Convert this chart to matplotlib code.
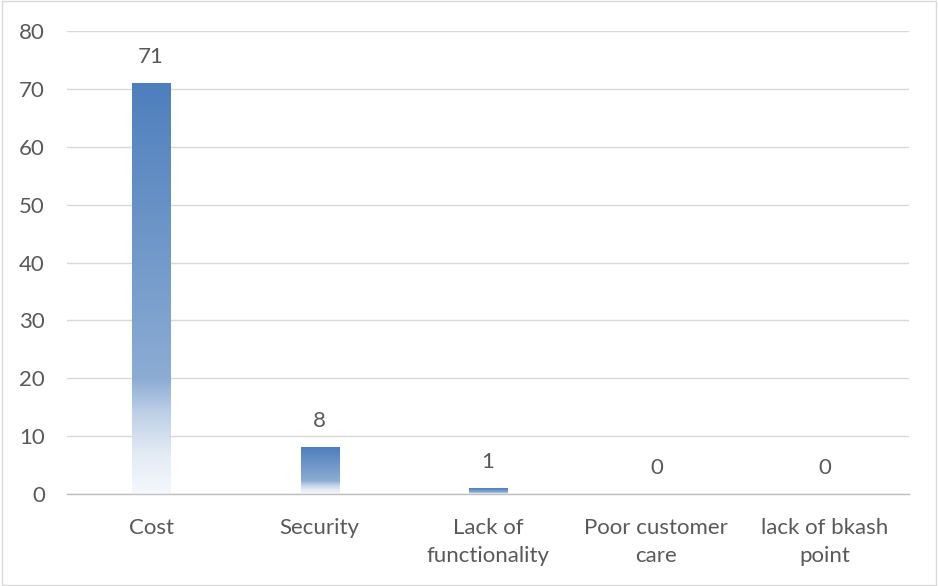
import matplotlib.pyplot as plt
import numpy as np
from matplotlib.colors import LinearSegmentedColormap
from matplotlib.patches import Rectangle

# datos
categorias = ['Cost', 'Security', 'Lack of\nfunctionality', 'Poor customer\ncare', 'lack of bkash\npoint']
valores = [71, 8, 1, 0, 0]
ticks_y = [0, 10, 20, 30, 40, 50, 60, 70, 80]

texto = '#595959'
plt.rcParams['font.family'] = ['Lato', 'DejaVu Sans']

fig = plt.figure(figsize=(9.38, 5.86), dpi=100)
ax = fig.add_axes([0.0714, 0.157, 0.8976, 0.79])

# degradado de arriba (0) a abajo (1)
cmap = LinearSegmentedColormap.from_list('grad', [
    (0.0, '#4E7FBC'), (0.72, '#8CACD4'), (0.80, '#BCCEE6'),
    (0.90, '#E2EAF4'), (1.0, '#F5F8FC')])

x = np.arange(len(categorias))
barras = ax.bar(x, valores, width=0.226, color='none', zorder=2)
grad = np.linspace(0, 1, 256).reshape(-1, 1)
for b in barras:
    h = b.get_height()
    if h <= 0:
        continue
    x0 = b.get_x()
    w = b.get_width()
    ax.imshow(grad, cmap=cmap, aspect='auto', extent=(x0, x0 + w, 0, h),
              origin='upper', zorder=2, interpolation='bilinear')

for xi, v in zip(x, valores):
    ax.annotate(str(v), (xi, v), xytext=(0, 19), textcoords='offset points',
                ha='center', va='center', fontsize=16, color=texto)

ax.set_xlim(-0.5, len(categorias) - 0.5)
ax.set_ylim(0, 80)
ax.set_yticks(ticks_y)
ax.set_xticks(x)
ax.set_xticklabels(categorias, fontsize=16, color=texto, linespacing=1.5)
ax.tick_params(axis='y', labelsize=16, labelcolor=texto, length=0, pad=16)
ax.tick_params(axis='x', length=0, pad=17)
ax.yaxis.grid(True, color='#D9D9D9', linewidth=1, zorder=0)
ax.set_axisbelow(True)
for s in ['top', 'right', 'left']:
    ax.spines[s].set_visible(False)
ax.spines['bottom'].set_color('#BFBFBF')
ax.spines['bottom'].set_linewidth(1)

# borde del grafico
fig.patches.append(Rectangle((0.002, 0.002), 0.996, 0.996, transform=fig.transFigure,
                             fill=False, edgecolor='#D9D9D9', linewidth=1))

fig.savefig('out.png', dpi=100)
plt.close()
